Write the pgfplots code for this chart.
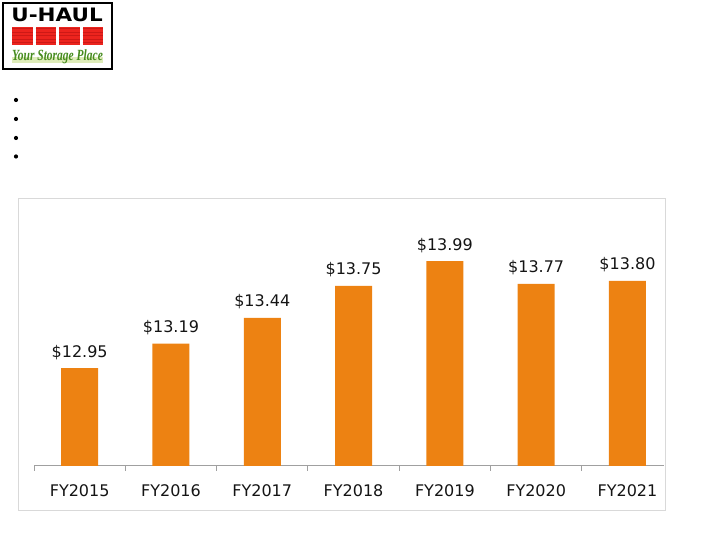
\documentclass[border=0pt]{standalone}
\usepackage{pgfplots}
\pgfplotsset{compat=1.18}
\usepackage{fontspec}
\setmainfont{DejaVu Sans}
\newfontfamily\logofont{DejaVu Sans}
\newfontfamily\tagfont{Liberation Serif}
\definecolor{barorange}{RGB}{237,130,18}
\definecolor{boxgray}{RGB}{217,217,217}
\definecolor{axgray}{RGB}{160,160,160}
\definecolor{uhred}{RGB}{236,36,30}
\definecolor{uhdark}{RGB}{205,25,22}
\definecolor{uhgreen}{RGB}{70,140,30}
\definecolor{uhpale}{RGB}{222,236,185}
\definecolor{txt}{RGB}{20,20,20}
\begin{document}
\begin{tikzpicture}[x=1pt,y=1pt]
% logo
\fill[white] (2,470) rectangle (113,538);
\draw[line width=2pt] (3,471) rectangle (112,537);
\node[anchor=base, inner sep=0pt] at (57,518.3) {\scalebox{1.16}[1]{\logofont\bfseries\fontsize{18.5}{18.5}\selectfont U-HAUL}};
\foreach \xa in {12,35.5,59,82.5}{
  \fill[uhred] (\xa,495) rectangle (\xa+20.5,513.3);
  \foreach \yy in {497.5,501,...,512}{\draw[uhdark, line width=0.3pt] (\xa,\yy) -- (\xa+20.5,\yy);}
}
\fill[uhpale] (12,477) rectangle (103,483);
\node[anchor=base, inner sep=0pt, text=uhgreen] at (57.5,479.5) {\scalebox{1}[1.35]{\tagfont\bfseries\itshape\fontsize{11.5}{12}\selectfont Your Storage Place}};
% bullets
\foreach \yy in {440,421,402,383.5}{\fill[black] (16,\yy) circle (2.1);}
% chart box
\draw[boxgray, line width=1pt] (18.5,29) rectangle (665,341.5);
\begin{axis}[
  at={(34pt,74pt)}, anchor=south west, scale only axis,
  width=630pt, height=257.25pt,
  xmin=-0.5, xmax=6.4, ymin=12, ymax=14.5,
  ybar, bar width=37pt, bar shift=0pt,
  axis y line=none, axis x line*=bottom,
  x axis line style={draw=axgray, line width=1pt, -},
  xtick={0,1,2,3,4,5,6},
  xticklabels={FY2015,FY2016,FY2017,FY2018,FY2019,FY2020,FY2021},
  major x tick style={draw=none},
  minor xtick={-0.5,0.5,1.5,2.5,3.5,4.5,5.5},
  minor tick length=5pt, tick align=outside,
  minor x tick style={draw=axgray, line width=1pt},
  xticklabel style={font=\fontsize{16}{19}\selectfont, text=txt, anchor=base, yshift=-26pt},
  nodes near coords={\$\pgfplotspointmeta},
  point meta=explicit symbolic,
  nodes near coords style={font=\fontsize{16}{19}\selectfont, text=txt, anchor=base, yshift=11pt},
  clip=false,
]
\addplot[fill=barorange, draw=none] coordinates {
  (0,12.95) [12.95]
  (1,13.19) [13.19]
  (2,13.44) [13.44]
  (3,13.75) [13.75]
  (4,13.99) [13.99]
  (5,13.77) [13.77]
  (6,13.80) [13.80]
};
\end{axis}
\pgfresetboundingbox
\path (0,0) rectangle (720,540);
\end{tikzpicture}
\end{document}
